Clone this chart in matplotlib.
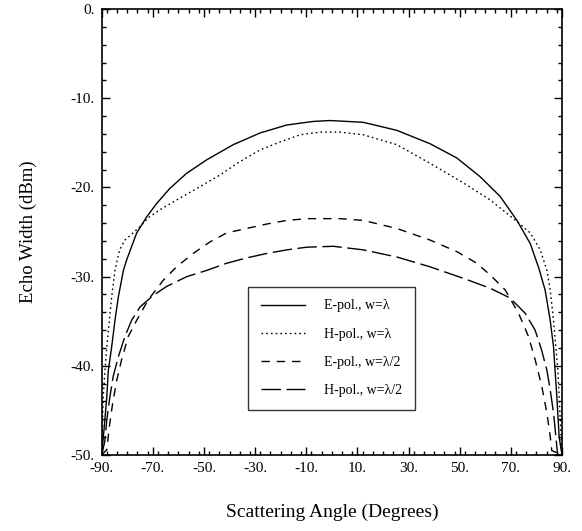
import numpy as np
import matplotlib
matplotlib.use("Agg")
from matplotlib import pyplot as plt
from matplotlib.ticker import MultipleLocator, FuncFormatter

plt.rcParams['font.family'] = ['Liberation Serif', 'DejaVu Serif']

# E-pol, w=lambda (solid)
ePolFullAngle = [-90, -89.1, -88.0, -87.4, -86.1, -84.8, -83.5, -81.5, -80.2, -76.3, -72.4, -68.5,
                 -63.3, -56.7, -48.9, -38.5, -28.1, -17.6, -7.2, -0.7, 12.3, 25.4, 38.4, 48.9,
                 58.0, 65.8, 72.4, 77.6, 81.0, 83.4, 85.4, 86.7, 87.3, 88.0, 88.9, 90]
ePolFullDb = [-50, -47.2, -43.5, -40.5, -37.9, -34.9, -32.3, -29.3, -28.1, -25.1, -23.3, -21.8,
              -20.1, -18.4, -16.9, -15.2, -13.9, -13.0, -12.6, -12.5, -12.7, -13.6, -15.1, -16.7,
              -18.8, -21.0, -23.7, -26.3, -29.1, -31.5, -34.9, -37.9, -40.5, -43.5, -48.0, -50]

# H-pol, w=lambda (dotted)
hPolFullAngle = [-90, -89.4, -88.7, -88.0, -87.0, -86.1, -84.8, -83.0, -80.9, -75.0, -71.8, -67.2,
                 -59.4, -51.5, -43.7, -35.9, -28.1, -20.2, -12.4, -4.6, 3.2, 12.3, 25.4, 38.4,
                 51.5, 61.9, 71.0, 77.6, 81.5, 84.1, 85.4, 86.7, 87.6, 88.4, 88.9, 90]
hPolFullDb = [-50, -43.5, -40.5, -37.9, -34.9, -32.3, -29.3, -27.0, -25.9, -24.4, -23.4, -22.5,
              -21.2, -19.9, -18.6, -17.1, -15.8, -14.9, -14.1, -13.8, -13.8, -14.1, -15.2, -17.3,
              -19.5, -21.4, -23.5, -25.1, -27.0, -29.3, -31.5, -34.9, -37.9, -40.5, -43.5, -50]

# E-pol, w=lambda/2 (dashed)
ePolHalfAngle = [-90, -88.0, -87.0, -85.7, -84.1, -82.2, -79.6, -76.3, -71.8, -65.9, -60.7, -54.2,
                 -47.6, -41.1, -33.3, -25.4, -17.6, -9.8, 3.2, 12.3, 25.4, 38.4, 48.9, 56.7,
                 62.6, 67.8, 73.0, 76.9, 79.5, 82.1, 84.1, 85.4, 86.0, 90]
ePolHalfDb = [-50, -49.4, -46.8, -44.2, -41.6, -39.3, -36.7, -34.9, -32.6, -30.4, -28.9, -27.4,
              -26.1, -25.1, -24.6, -24.1, -23.7, -23.5, -23.5, -23.7, -24.6, -25.9, -27.2, -28.5,
              -30.0, -31.5, -34.1, -36.7, -39.3, -42.3, -45.3, -47.9, -49.5, -50]

# H-pol, w=lambda/2 (long dash)
hPolHalfAngle = [-90, -88.8, -88.0, -86.8, -85.5, -83.5, -80.9, -78.3, -75.0, -69.8, -64.6, -56.7,
                 -48.9, -41.1, -33.3, -25.4, -17.6, -9.8, 0.6, 12.3, 25.4, 38.4, 51.5, 61.9,
                 69.7, 75.6, 79.5, 82.1, 84.1, 85.4, 86.7, 87.6, 88.3, 90]
hPolHalfDb = [-50, -48.5, -46.1, -43.5, -41.2, -39.0, -36.7, -34.9, -33.4, -32.1, -31.1, -30.0,
              -29.3, -28.5, -27.9, -27.4, -27.0, -26.7, -26.6, -27.0, -27.8, -28.9, -30.2, -31.3,
              -32.4, -34.1, -36.0, -38.3, -40.5, -42.7, -45.3, -47.9, -50, -50]

labels = ["E-pol., w=λ", "H-pol., w=λ", "E-pol., w=λ/2", "H-pol., w=λ/2"]

fig = plt.figure(figsize=(5.82, 5.31), dpi=100)
ax = fig.add_axes([0.1747, 0.1431, 0.7909, 0.8399])

ax.plot(ePolFullAngle, ePolFullDb, c="black", lw=1.0, ls="-", label=labels[0])
ax.plot(hPolFullAngle, hPolFullDb, c="black", lw=1.0, ls=(0, (1.2, 2.2)), label=labels[1])
ax.plot(ePolHalfAngle, ePolHalfDb, c="black", lw=1.0, ls=(0, (6, 5)), label=labels[2])
ax.plot(hPolHalfAngle, hPolHalfDb, c="black", lw=1.0, ls=(0, (14, 4)), label=labels[3])

ax.set_xlim(-90, 90)
ax.set_ylim(-50, 0)
ax.xaxis.set_minor_locator(MultipleLocator(4))
ax.yaxis.set_major_locator(MultipleLocator(10))
ax.yaxis.set_minor_locator(MultipleLocator(2))
ax.set_xticks(np.arange(-90, 91, 20))
fmt = FuncFormatter(lambda v, p: "%d." % round(v))
ax.xaxis.set_major_formatter(fmt)
ax.yaxis.set_major_formatter(fmt)
ax.tick_params(which="both", direction="in", top=True, right=True, labelsize=11, width=1.0)
ax.tick_params(which="major", length=6, pad=5)
ax.tick_params(which="minor", length=3)
for s in ax.spines.values():
  s.set_linewidth(1.2)

ax.set_xlabel("Scattering Angle (Degrees)", fontsize=14, labelpad=21)
ax.set_ylabel("Echo Width (dBm)", fontsize=13.5, labelpad=24)

# legend box sits below the curves, left-center
leg = ax.legend(loc="upper left", bbox_to_anchor=(0.318, 0.377), borderaxespad=0, fontsize=10,
                frameon=True, fancybox=False, edgecolor="black", handlelength=3.2,
                labelspacing=1.1, borderpad=0.9, handletextpad=1.4)
leg.get_frame().set_linewidth(1.0)

fig.savefig("out.png", dpi=100)
